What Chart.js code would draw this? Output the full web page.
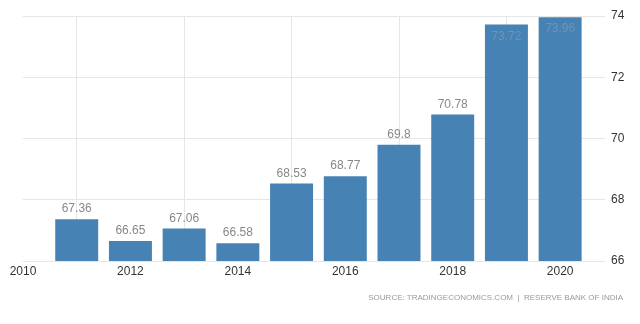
<!DOCTYPE html>
<html>
<head>
<meta charset="utf-8">
<script src="https://cdn.jsdelivr.net/npm/chart.js@4"></script>
<style>
  html, body { margin: 0; padding: 0; background: #fff; }
  #wrap { position: relative; width: 640px; height: 324px; }
  #source {
    position: absolute; right: 17px; top: 293px;
    font: 8px "Liberation Sans", Arial, sans-serif;
    color: #999; white-space: nowrap;
  }
</style>
</head>
<body>
<div id="wrap">
  <canvas id="barChart" width="640" height="324"></canvas>
  <div id="source">SOURCE: TRADINGECONOMICS.COM &nbsp;|&nbsp; RESERVE BANK OF INDIA</div>
</div>
<script>
// yearly values
const years = [2011, 2012, 2013, 2014, 2015, 2016, 2017, 2018, 2019, 2020];
const values = [67.36, 66.65, 67.06, 66.58, 68.53, 68.77, 69.8, 70.78, 73.72, 73.96];
const valueLabels = ["67.36", "66.65", "67.06", "66.58", "68.53", "68.77", "69.8", "70.78", "73.72", "73.96"];
const yTicks = [66, 68, 70, 72, 74];

const gridColor = "#e6e6e6";

// value text over each bar, pushed inside when it would leave the plot
const barLabels = {
    id: "barLabels",
    afterDatasetsDraw(chart) {
        const ctx = chart.ctx;
        const area = chart.chartArea;
        const meta = chart.getDatasetMeta(0);
        ctx.save();
        ctx.font = "12px 'Liberation Sans', Arial, sans-serif";
        ctx.textAlign = "center";
        meta.data.forEach((bar, i) => {
            let y = bar.y - 7;
            ctx.fillStyle = "#888";
            if (y - 12 < area.top) {
                y = bar.y + 15;
                ctx.fillStyle = "#6f93ba";
            }
            ctx.fillText(valueLabels[i], bar.x, y);
        });
        ctx.restore();
    }
};

var ctxB = document.getElementById("barChart").getContext("2d");

let chart = new Chart(ctxB, {
    type: "bar",
    data: {
        datasets: [
            {
                data: years.map((yr, i) => ({ x: yr, y: values[i] })),
                backgroundColor: "#4682b4",
                barPercentage: 0.8,
                categoryPercentage: 1
            }
        ]
    },
    options: {
        responsive: false,
        animation: false,
        layout: { padding: { left: 23, top: 16, right: 0, bottom: 0 } },
        plugins: {
            legend: { display: false },
            tooltip: { enabled: false }
        },
        scales: {
            x: {
                type: "linear",
                min: 2010,
                max: 2020.5,
                offset: false,
                afterFit: (s) => { s.height = 63; },
                border: { display: false },
                grid: { color: gridColor, drawTicks: false },
                ticks: {
                    stepSize: 2,
                    includeBounds: false,
                    padding: 3,
                    color: "#333",
                    font: { family: "'Liberation Sans', Arial, sans-serif", size: 12 },
                    callback: (v) => String(v)
                }
            },
            y: {
                position: "right",
                min: 66,
                max: 74,
                afterFit: (s) => { s.width = 53; },
                afterBuildTicks: (s) => { s.ticks = yTicks.map((v) => ({ value: v })); },
                border: { display: false },
                grid: { color: gridColor, tickLength: 18 },
                ticks: {
                    padding: 6,
                    color: "#333",
                    font: { family: "'Liberation Sans', Arial, sans-serif", size: 12 }
                }
            }
        }
    },
    plugins: [barLabels]
});
</script>
</body>
</html>
